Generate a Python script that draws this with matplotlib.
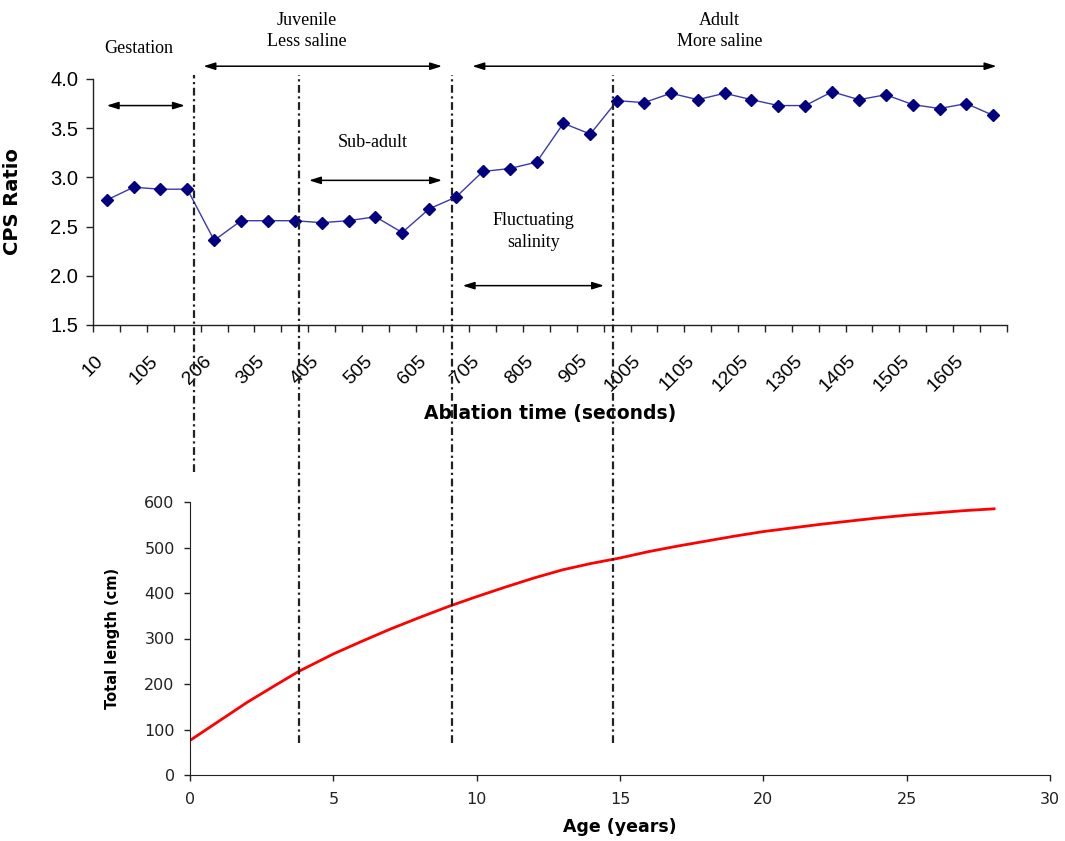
import matplotlib
matplotlib.use("Agg")
import matplotlib.pyplot as plt
from matplotlib.lines import Line2D
from matplotlib.transforms import blended_transform_factory

# top chart: CPS ratio along the ablation transect
cps_ratio = [2.77, 2.90, 2.88, 2.88, 2.36, 2.56, 2.56, 2.56, 2.54, 2.56,
             2.60, 2.44, 2.68, 2.80, 3.06, 3.09, 3.155, 3.55, 3.44, 3.78,
             3.76, 3.855, 3.79, 3.855, 3.79, 3.73, 3.73, 3.87, 3.79, 3.84,
             3.74, 3.70, 3.75, 3.63]
time_labels = ["10", "105", "206", "305", "405", "505", "605", "705", "805",
               "905", "1005", "1105", "1205", "1305", "1405", "1505", "1605"]

# bottom chart: growth curve
age = [0, 1, 2, 3, 3.8, 5, 6, 7, 8, 9, 10, 11, 12, 13, 14, 15, 16, 17, 18,
       19, 20, 21, 22, 23, 24, 25, 26, 27, 28.05]
length = [76, 118, 160, 198, 228, 266, 294, 321, 346, 370, 392, 413, 433,
          451, 465, 477, 491, 503, 514, 525, 535, 543, 551, 558, 565, 571,
          576, 581, 585]

# stage boundaries (age, years) and where each guide line stops (cm)
stage_ages = [0.15, 3.80, 9.14, 14.77]
stage_bottom = [666, 70, 70, 70]

serif = "Liberation Serif"
sans = "Liberation Sans"

fig = plt.figure(figsize=(10.65, 8.41), dpi=100)
W, H = 1065, 841

ax1 = fig.add_axes([93.3 / W, 1 - 325 / H, 913.4 / W, 246 / H])
n = len(cps_ratio)
xs = list(range(n))
ax1.plot(xs, cps_ratio, color="#3a3aaa", lw=1.0, zorder=3)
ax1.plot(xs, cps_ratio, ls="none", marker="D", ms=6, color="#000080", zorder=4)
ax1.set_xlim(-0.5, n - 0.5)
ax1.set_ylim(1.5, 4.0)
ax1.set_yticks([1.5, 2.0, 2.5, 3.0, 3.5, 4.0])
ax1.set_yticklabels(["%.1f" % v for v in [1.5, 2.0, 2.5, 3.0, 3.5, 4.0]],
                    fontname=sans, fontsize=14.5)
ax1.set_xticks([i - 0.5 for i in range(n + 1)])
ax1.set_xticklabels([])
ax1.tick_params(axis="both", direction="out", length=5, width=1, color="#222")
ax1.tick_params(axis="y", pad=6)
for s in ["top", "right"]:
    ax1.spines[s].set_visible(False)
for s in ["left", "bottom"]:
    ax1.spines[s].set_linewidth(1)
    ax1.spines[s].set_color("#222")

btrans = blended_transform_factory(ax1.transData, ax1.transAxes)
for k, lab in enumerate(time_labels):
    ax1.annotate(lab, xy=(2 * k, 0), xycoords=btrans, xytext=(-4, -24),
                 textcoords="offset points", rotation=45, ha="right",
                 va="center", rotation_mode="anchor", fontname=sans,
                 fontsize=14, annotation_clip=False)

ax1.set_ylabel("CPS Ratio", fontname="DejaVu Sans", fontweight="bold", fontsize=14)
ax1.yaxis.set_label_coords(-0.078, 0.5)
ax1.set_xlabel("Ablation time (seconds)", fontname="DejaVu Sans",
               fontweight="bold", fontsize=13.5)
ax1.xaxis.set_label_coords(0.5, -0.358)
ax1.xaxis.label.set_va("center")

# stage annotations
txt = dict(fontname=serif, fontsize=13, ha="center", va="center",
           linespacing=1.35, clip_on=False)
ax1.text(1.20, 4.31, "Gestation", **txt)
ax1.text(7.44, 4.49, "Juvenile\nLess saline", **txt)
ax1.text(9.91, 3.35, "Sub-adult", **txt)
ax1.text(15.90, 2.45, "Fluctuating\nsalinity", **txt)
ax1.text(22.82, 4.49, "Adult\nMore saline", **txt)

arrows = [(0.0, 2.91, 3.73), (3.60, 12.48, 4.13), (7.53, 12.48, 2.97),
          (13.25, 18.51, 1.90), (13.61, 33.12, 4.13)]
for x0, x1, y in arrows:
    ax1.annotate("", xy=(x1, y), xytext=(x0, y),
                 arrowprops=dict(arrowstyle="<|-|>,head_length=0.7,head_width=0.22",
                                 color="black", lw=1.1, shrinkA=0, shrinkB=0),
                 annotation_clip=False)

ax2 = fig.add_axes([190 / W, 1 - 775 / H, 860 / W, 273 / H])
ax2.plot(age, length, color="#ff0000", lw=2)
ax2.set_xlim(0, 30)
ax2.set_ylim(0, 600)
ax2.set_xticks([0, 5, 10, 15, 20, 25, 30])
ax2.set_yticks([0, 100, 200, 300, 400, 500, 600])
ax2.tick_params(axis="both", direction="out", length=4, width=1, color="#222",
                labelsize=11.5, labelcolor="#222")
ax2.tick_params(axis="x", pad=8)
ax2.tick_params(axis="y", pad=7)
for s in ["top", "right"]:
    ax2.spines[s].set_visible(False)
for s in ["left", "bottom"]:
    ax2.spines[s].set_color("#222")
ax2.set_ylabel("Total length (cm)", fontname="DejaVu Sans", fontweight="bold",
               fontsize=10.5)
ax2.yaxis.set_label_coords(-0.0814, 0.5)
ax2.set_xlabel("Age (years)", fontname="DejaVu Sans", fontweight="bold",
               fontsize=12.5)
ax2.xaxis.set_label_coords(0.5, -0.19)
ax2.xaxis.label.set_va("center")

# dash-dot guide lines running through both charts
top_y = ax1.transData.transform((0, 4.04))[1]
for a, yb in zip(stage_ages, stage_bottom):
    xpix = ax2.transData.transform((a, 0))[0]
    ybp = ax2.transData.transform((0, yb))[1]
    fig.add_artist(Line2D([xpix, xpix], [ybp, top_y], transform=None,
                          color="#222", lw=1.6, dashes=(3.5, 1.6, 1.0, 1.6),
                          zorder=10))

fig.savefig("out.png", dpi=100)
